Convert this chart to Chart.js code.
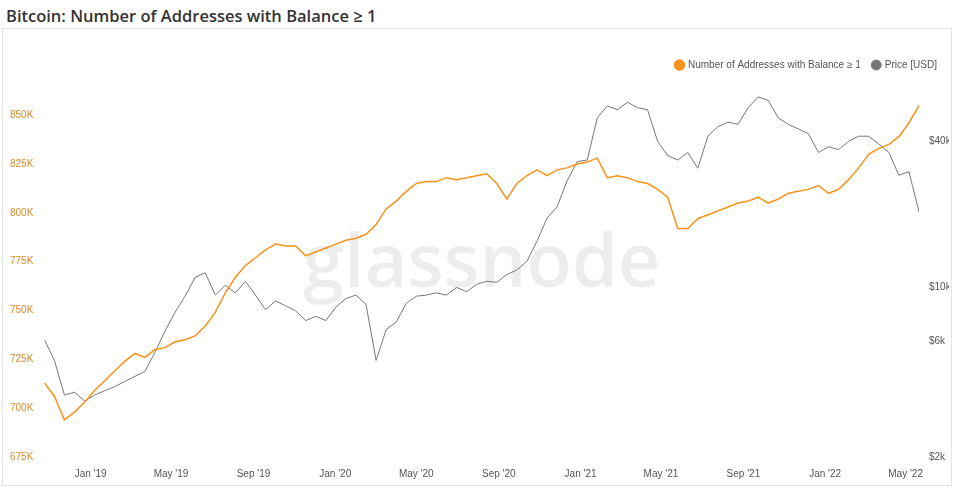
<!DOCTYPE html>
<html lang="en">
<head>
<meta charset="UTF-8">
<title>Bitcoin: Number of Addresses with Balance ≥ 1</title>
<script src="https://cdn.jsdelivr.net/npm/chart.js"></script>
<style>
  body { margin: 0; background: #fff; font-family: "Open Sans", sans-serif; }
  h1 { margin: 0; position: absolute; left: 6px; top: 4px; font-size: 16.5px; font-weight: 600; color: #333; }
  #box { position: absolute; left: 2px; top: 28px; width: 950px; height: 458px; border: 1px solid #e4e4e4; box-sizing: border-box; }
</style>
</head>
<body>
<h1>Bitcoin: Number of Addresses with Balance ≥ 1</h1>
<div id="box"><canvas id="c"></canvas></div>
<script>
// semi-monthly samples, first one ~24 Oct 2018, 15 days apart
const startDate = new Date(2018, 9, 24);
const stepDays = 15;
const addresses = [713,706,694,698,703,709,714,719,724,728,
  726,730,731,734,735,737,742,749,759,767,
  773,777,781,784,783,783,778,780,782,784,
  786,787,789,794,802,806,811,815,816,816,
  818,817,818,819,820,815,807,815,819,822,
  819,822,823,825,826,828,818,819,818,816,
  815,812,808,792,792,797,799,801,803,805,
  806,808,805,807,810,811,812,814,810,812,
  817,823,830,833,835,839,846,855];
const price = [6.1,5.0,3.6,3.7,3.4,3.6,3.75,3.9,4.1,4.3,
  4.5,5.4,6.6,7.9,9.2,11.0,11.5,9.3,10.2,9.5,
  10.6,9.3,8.1,8.8,8.4,8.0,7.3,7.6,7.3,8.3,
  9.0,9.3,8.5,5.0,6.7,7.2,8.6,9.2,9.3,9.5,
  9.3,10.0,9.6,10.3,10.6,10.5,11.3,11.8,12.8,15.5,
  19.3,21.5,27.5,33,33.5,50,56,54,58,55,
  54,40,35,33.5,36,31,42,46,48,47,
  55,61,59,50,47,45,43,36,38,37,
  40,42,42,39,36,29,30,20.5];
const monthLabels = ["Jan '19","May '19","Sep '19","Jan '20","May '20","Sep '20","Jan '21","May '21","Sep '21","Jan '22","May '22"];
const monthDates = monthLabels.map((m, i) => new Date(2019 + Math.floor(i / 3), (i % 3) * 4, 1));
const priceTicks = [2000, 6000, 10000, 40000];

const dayIdx = d => (d - startDate) / 86400000 / stepDays;
const orange = '#f7931a';

const watermark = {
  id: 'wm',
  beforeDatasetsDraw(chart) {
    const { ctx, chartArea: a } = chart;
    ctx.save();
    ctx.font = '600 74px "Open Sans", sans-serif';
    ctx.fillStyle = 'rgba(0,0,0,0.07)';
    ctx.textAlign = 'center';
    ctx.textBaseline = 'middle';
    ctx.fillText('glassnode', (a.left + a.right) / 2, 237);
    ctx.restore();
  }
};

new Chart(document.getElementById('c'), {
  type: 'line',
  data: {
    datasets: [
      { label: 'Number of Addresses with Balance ≥ 1', data: addresses.map((v, i) => ({ x: i, y: v * 1000 })),
        borderColor: orange, backgroundColor: orange, borderWidth: 1.5, pointRadius: 0, yAxisID: 'y', order: 1 },
      { label: 'Price [USD]', data: price.map((v, i) => ({ x: i, y: v * 1000 })),
        borderColor: '#777', backgroundColor: '#777', borderWidth: 1, pointRadius: 0, yAxisID: 'y1', order: 2 }
    ]
  },
  options: {
    responsive: true, maintainAspectRatio: false, animation: false,
    layout: { padding: { left: 4, right: 2, top: 19, bottom: 2 } },
    plugins: {
      legend: { align: 'end', labels: { usePointStyle: true, pointStyle: 'circle', boxWidth: 7, boxHeight: 7, color: '#555', font: { size: 10 }, padding: 12 } },
      tooltip: { enabled: false }
    },
    scales: {
      x: { type: 'linear', min: 0, max: addresses.length - 1, grid: { display: false }, border: { display: false },
        afterBuildTicks: s => { s.ticks = monthDates.map(d => ({ value: dayIdx(d) })); },
        ticks: { color: '#555', font: { size: 10 }, maxRotation: 0, autoSkip: false,
          callback: (v, i) => monthLabels[i] } },
      y: { position: 'left', min: 675000, max: 868000, grid: { display: false }, border: { display: false },
        afterBuildTicks: s => { s.ticks = [675,700,725,750,775,800,825,850].map(v => ({ value: v * 1000 })); },
        ticks: { color: '#d98a2b', font: { size: 10 }, callback: v => (v / 1000) + 'K' } },
      y1: { position: 'right', type: 'logarithmic', min: 2000, max: 71600, grid: { display: false }, border: { display: false },
        afterBuildTicks: s => { s.ticks = priceTicks.map(v => ({ value: v })); },
        afterFit: s => { s.width = 30; },
        ticks: { color: '#555', font: { size: 10 }, padding: 2, callback: v => '$' + (v / 1000) + 'k' } }
    }
  },
  plugins: [watermark]
});
</script>
</body>
</html>
